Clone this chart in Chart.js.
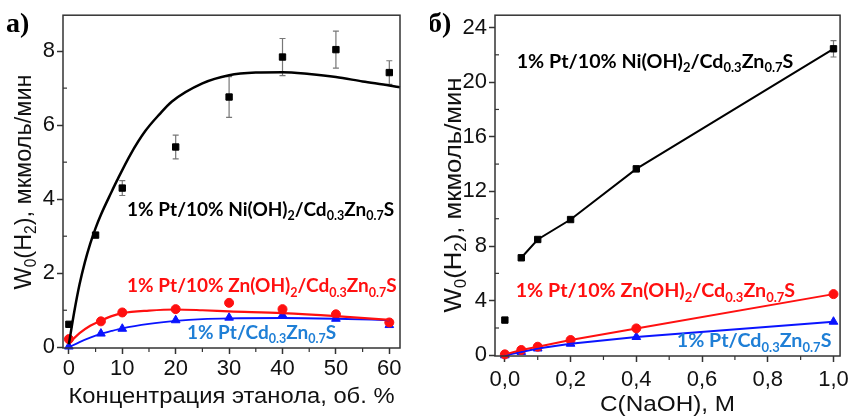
<!DOCTYPE html>
<html>
<head>
<meta charset="utf-8">
<script src="https://cdn.jsdelivr.net/npm/chart.js@4.4.1/dist/chart.umd.min.js"></script>
<style>
  html,body{margin:0;padding:0;background:#fff}
  #wrap{position:relative;width:854px;height:418px;overflow:hidden}
  #cA{position:absolute;left:0;top:0}
  #cB{position:absolute;left:430px;top:0}
</style>
</head>
<body>
<div id="wrap">
  <canvas id="cA" width="430" height="418"></canvas>
  <canvas id="cB" width="424" height="418"></canvas>
</div>
<script>
/* ═══ DATA: panel а) ethanol ═══ */
const etX      = [0, 5, 10, 20, 30, 40, 50, 60];
const etNi     = [0.62, 3.03, 4.30, 5.41, 6.76, 7.84, 8.04, 7.42];
const etNiErr  = [0, 0.05, 0.20, 0.32, 0.55, 0.50, 0.50, 0.32];
const etX2     = [0, 6, 10, 20, 30, 40, 50, 60];
const etZn     = [0.22, 0.70, 0.94, 1.03, 1.20, 1.03, 0.89, 0.67];
const etPt     = [0.02, 0.37, 0.50, 0.73, 0.80, 0.87, 0.77, 0.60];
// fitted curves as drawn
const fitNiX   = [0, 1, 2, 3, 4, 5, 6, 8, 9, 11.5, 14.3, 17, 19.3, 25, 30, 35, 40, 45, 50, 55, 60, 62];
const fitNi    = [0.08, 0.95, 1.7, 2.3, 2.8, 3.22, 3.58, 4.2, 4.5, 5.2, 5.84, 6.3, 6.64, 7.13, 7.35, 7.42, 7.43, 7.38, 7.3, 7.18, 7.07, 7.02];
const fitX     = [0, 2, 4, 6, 8, 10, 15, 20, 25, 30, 40, 50, 60];
const fitZn    = [0.10, 0.38, 0.58, 0.72, 0.84, 0.92, 0.99, 1.02, 1.00, 0.97, 0.92, 0.84, 0.74];
const fitPt    = [0.00, 0.14, 0.26, 0.36, 0.44, 0.51, 0.63, 0.71, 0.76, 0.78, 0.79, 0.77, 0.73];
const etXMajor = [0, 10, 20, 30, 40, 50, 60];
const etXMinor = [5, 15, 25, 35, 45, 55];
const etYMajor = [0, 2, 4, 6, 8];
const etYMinor = [1, 3, 5, 7];

/* ═══ DATA: panel б) NaOH ═══ */
const naX      = [0, 0.05, 0.1, 0.2, 0.4, 1.0];
const naNi     = [2.58, 7.14, 8.48, 9.94, 13.65, 22.44];
const naNiErr  = [0, 0, 0, 0, 0.2, 0.6];
const naZn     = [0.07, 0.39, 0.63, 1.12, 1.97, 4.48];
const naPt     = [0.00, 0.25, 0.50, 0.85, 1.34, 2.46];
const naXMajor = [0, 0.2, 0.4, 0.6, 0.8, 1.0];
const naXMinor = [0.1, 0.3, 0.5, 0.7, 0.9];
const naYMajor = [0, 4, 8, 12, 16, 20, 24];
const naYMinor = [2, 6, 10, 14, 18, 22];

const lblNi = '1% Pt/10% Ni(OH)_{2}/Cd_{0.3}Zn_{0.7}S';
const lblZn = '1% Pt/10% Zn(OH)_{2}/Cd_{0.3}Zn_{0.7}S';
const lblPt = '1% Pt/Cd_{0.3}Zn_{0.7}S';
const yTitle = 'W_{0}(H_{2}), мкмоль/мин';

const BLK='#000', RED='#ff1010', BLU='#0a14ff', BLU_T='#1f7fd6', AX='#333';
const SANS='"Liberation Sans", Arial, sans-serif';
const LBLF='Lato, "Open Sans", sans-serif';

/* ═══ RICH TEXT (subscripts) ═══ */
function parts(str){
  const out=[]; const re=/_\{([^}]*)\}/g; let last=0, m;
  while((m=re.exec(str))){
    if(m.index>last) out.push({t:str.slice(last,m.index), s:false});
    out.push({t:m[1], s:true}); last=re.lastIndex;
  }
  if(last<str.length) out.push({t:str.slice(last), s:false});
  return out;
}
function richW(ctx,str,size,fam,wt){
  let w=0;
  parts(str).forEach(p=>{ctx.font=`${wt} ${p.s?size*0.66:size}px ${fam}`; w+=ctx.measureText(p.t).width});
  return w;
}
function drawRich(ctx,str,x,y,size,color,fam,wt){
  ctx.save(); ctx.fillStyle=color; ctx.textAlign='left'; ctx.textBaseline='alphabetic';
  let cx=x;
  parts(str).forEach(p=>{
    const fs=p.s?size*0.66:size;
    ctx.font=`${wt} ${fs}px ${fam}`;
    ctx.fillText(p.t,cx,y+(p.s?size*0.22:0));
    cx+=ctx.measureText(p.t).width;
  });
  ctx.restore();
}

/* ═══ DECOR PLUGIN: frame, minor ticks, error bars, labels, titles ═══ */
const decor={
  id:'decor',
  beforeDatasetsDraw(ch,args,o){
    const c=ch.ctx, xs=ch.scales.x, ys=ch.scales.y;
    c.save();
    c.strokeStyle='#777'; c.lineWidth=1.2;
    o.errX.forEach((x,i)=>{
      const e=o.err[i]; if(!e) return;
      const px=xs.getPixelForValue(x), p1=ys.getPixelForValue(o.errY[i]-e), p2=ys.getPixelForValue(o.errY[i]+e);
      c.beginPath(); c.moveTo(px,p1); c.lineTo(px,p2);
      c.moveTo(px-3,p1); c.lineTo(px+3,p1); c.moveTo(px-3,p2); c.lineTo(px+3,p2); c.stroke();
    });
    c.restore();
  },
  afterDatasetsDraw(ch,args,o){
    const c=ch.ctx, a=ch.chartArea, xs=ch.scales.x, ys=ch.scales.y;
    c.save();
    // frame
    c.strokeStyle=AX; c.lineWidth=1.5;
    c.strokeRect(a.left,a.top,a.right-a.left,a.bottom-a.top);
    // minor ticks
    c.lineWidth=1.2;
    o.xMinor.forEach(v=>{const p=xs.getPixelForValue(v); c.beginPath(); c.moveTo(p,a.bottom); c.lineTo(p,a.bottom+4); c.stroke();});
    o.yMinor.forEach(v=>{const p=ys.getPixelForValue(v); c.beginPath(); c.moveTo(a.left,p); c.lineTo(a.left+4,p); c.stroke();});
    // series labels
    o.labels.forEach(l=>drawRich(c,l.t,xs.getPixelForValue(l.x),ys.getPixelForValue(l.y),l.size,l.color,LBLF,'bold'));
    // y title (rotated, fitted to length)
    const tw=richW(c,yTitle,24,SANS,'normal');
    c.translate(o.yTitleX,o.yTitleY); c.rotate(-Math.PI/2); c.scale(o.yTitleLen/tw,1);
    drawRich(c,yTitle,-tw/2,8,24,'#111',SANS,'normal');
    c.setTransform(1,0,0,1,0,0);
    // x title
    c.fillStyle='#111'; c.font=`22px ${SANS}`; c.textAlign='center'; c.textBaseline='middle';
    const xw=c.measureText(o.xTitle).width;
    c.translate((a.left+a.right)/2,o.xTitleY); c.scale(o.xTitleLen/xw,1);
    c.fillText(o.xTitle,0,0);
    c.setTransform(1,0,0,1,0,0);
    // panel letter
    c.font=`bold 28px "Liberation Serif", "Times New Roman", serif`; c.fillStyle='#000'; c.textAlign='left';
    c.fillText(o.panel,o.panelX,25);
    c.restore();
  }
};

function axes(xMin,xMax,yMin,yMax,xMaj,yMaj,yW,xH,xFmt,xPad){
  const tk={color:'#111',font:{family:SANS,size:22}};
  return {
    x:{type:'linear',min:xMin,max:xMax,
       afterBuildTicks:s=>{s.ticks=xMaj.map(v=>({value:v}))},
       afterFit:s=>{s.height=xH},
       ticks:{...tk,padding:xPad,maxRotation:0,autoSkip:false,callback:xFmt},
       grid:{drawOnChartArea:false,tickLength:6,tickColor:AX,tickWidth:1.5},
       border:{display:false}},
    y:{type:'linear',min:yMin,max:yMax,
       afterBuildTicks:s=>{s.ticks=yMaj.map(v=>({value:v}))},
       afterFit:s=>{s.width=yW},
       ticks:{...tk,padding:2,autoSkip:false,callback:v=>String(v)},
       grid:{drawOnChartArea:false,tickLength:6,tickColor:AX,tickWidth:1.5},
       border:{display:false}}
  };
}
const pts=(xs,ys)=>xs.map((x,i)=>({x,y:ys[i]}));
const mk=(label,data,color,style)=>({label,data,type:'scatter',showLine:false,clip:false,
  pointStyle:style,pointRadius:style==='triangle'?5:4.5,backgroundColor:color,borderColor:color,borderWidth:1});
const ln=(label,data,color,w,extra)=>({label,data,type:'line',showLine:true,clip:false,pointRadius:0,
  borderColor:color,borderWidth:w,fill:false,tension:0.4,cubicInterpolationMode:'monotone',...extra});
const straight={tension:0,cubicInterpolationMode:'default'};

const baseOpts={responsive:false,animation:false,devicePixelRatio:1,
  plugins:{legend:{display:false},tooltip:{enabled:false}}};

/* ═══ CHART а) ═══ */
new Chart(document.getElementById('cA'),{
  type:'scatter',
  data:{datasets:[
    ln('fitNi',pts(fitNiX,fitNi),BLK,2.5),
    ln('fitZn',pts(fitX,fitZn),RED,2.2),
    ln('fitPt',pts(fitX,fitPt),BLU,1.8),
    mk('Ni',pts(etX,etNi),BLK,'rect'),
    mk('Zn',pts(etX2,etZn),RED,'circle'),
    mk('Pt',pts(etX2,etPt),BLU,'triangle')
  ]},
  options:{...baseOpts,
    layout:{padding:{left:0,right:30,top:13,bottom:0}},
    scales:axes(-1.1,62,-0.02,8.97,etXMajor,etYMajor,63,70,v=>String(v),2),
    plugins:{...baseOpts.plugins,decor:{
      xMinor:etXMinor,yMinor:etYMinor,errX:etX,errY:etNi,err:etNiErr,
      labels:[
        {t:lblNi,x:10.9,y:3.54,size:19,color:BLK},
        {t:lblZn,x:10.9,y:1.48,size:19,color:RED},
        {t:lblPt,x:22.1,y:0.22,size:19,color:BLU_T}
      ],
      yTitleX:23,yTitleY:182,yTitleLen:215,xTitle:'Концентрация этанола, об. %',xTitleY:397,xTitleLen:326,panel:'а)',panelX:6
    }}
  },
  plugins:[decor]
});

/* ═══ CHART б) ═══ */
new Chart(document.getElementById('cB'),{
  type:'scatter',
  data:{datasets:[
    ln('lnNi',pts(naX,naNi),BLK,2,{...straight,segment:{borderColor:c=>c.p0DataIndex===0?'rgba(0,0,0,0)':undefined}}),
    ln('lnZn',pts(naX,naZn),RED,2,straight),
    ln('lnPt',pts(naX,naPt),BLU,2,straight),
    mk('Ni',pts(naX,naNi),BLK,'rect'),
    mk('Zn',pts(naX,naZn),RED,'circle'),
    mk('Pt',pts(naX,naPt),BLU,'triangle')
  ]},
  options:{...baseOpts,
    layout:{padding:{left:0,right:11,top:15,bottom:0}},
    scales:axes(-0.03,1.02,-0.05,24.9,naXMajor,naYMajor,65,62,v=>Number(v).toFixed(1).replace('.',','),5),
    plugins:{...baseOpts.plugins,decor:{
      xMinor:naXMinor,yMinor:naYMinor,errX:naX,errY:naNi,err:naNiErr,
      labels:[
        {t:lblNi,x:0.036,y:21.05,size:19.7,color:BLK},
        {t:lblZn,x:0.033,y:4.24,size:19.7,color:RED},
        {t:lblPt,x:0.523,y:0.58,size:19.7,color:BLU_T}
      ],
      yTitleX:23,yTitleY:195,yTitleLen:235,xTitle:'C(NaOH), M',xTitleY:405,xTitleLen:135,panel:'б)',panelX:-2
    }}
  },
  plugins:[decor]
});
</script>
</body>
</html>
